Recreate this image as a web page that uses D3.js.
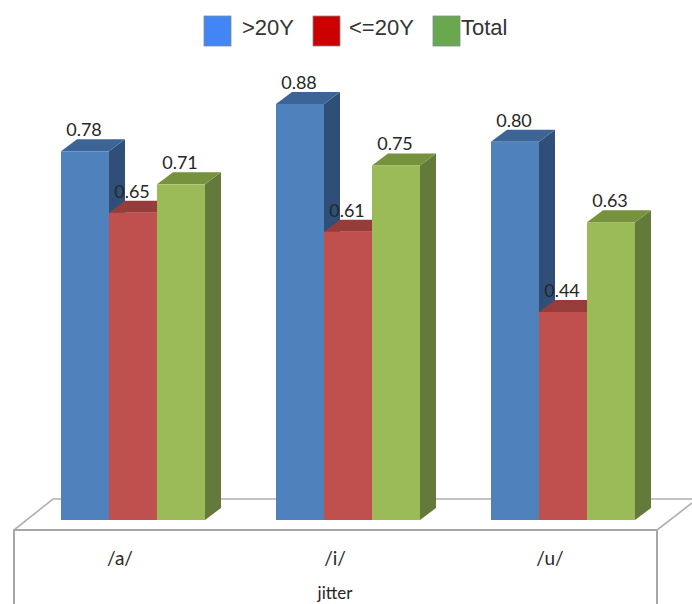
<!DOCTYPE html>
<html>
<head>
<meta charset="utf-8">
<script src="https://cdn.jsdelivr.net/npm/d3@7/dist/d3.min.js"></script>
<style>
html, body { margin: 0; padding: 0; background: #fff; overflow: hidden; }
svg { display: block; }
</style>
</head>
<body>
<svg id="chart" width="692" height="604"></svg>
<script>
// Jitter by vowel and age group
const categories = ["/a/", "/i/", "/u/"];
const seriesNames = [">20Y", "<=20Y", "Total"];
const over20 = [0.78, 0.88, 0.80];
const upTo20 = [0.65, 0.61, 0.44];
const total = [0.71, 0.75, 0.63];
const axisTitle = "jitter";

const frontColors = ["#4f81bd", "#c0504d", "#9bbb59"];
const topColors = ["#3c6496", "#963c3a", "#76923c"];
const sideColors = ["#2f4f78", "#773030", "#647a3a"];
const legendColors = ["#4285f4", "#cc0000", "#6aa84f"];

const svg = d3.select("#chart");
const seriesValues = [over20, upTo20, total];

const baseY = 520, depthX = 16, depthY = 12;

const x0 = d3.scaleBand().domain(categories).range([61, 706]).paddingInner(0).paddingOuter(0);
const x1 = d3.scaleBand().domain(d3.range(seriesNames.length)).range([0, 144]);
const y = d3.scaleLinear().domain([0, 0.88]).range([baseY, 104]);

// Floor plate and the box under it
const line = d3.line();
svg.append("path")
  .attr("d", line([[14, 604], [14, 530], [657, 530], [657, 604]]))
  .attr("fill", "none").attr("stroke", "#a6a6a6").attr("stroke-width", 2);
svg.append("path")
  .attr("d", line([[14, 530], [53, 499], [692, 499]]))
  .attr("fill", "none").attr("stroke", "#b0b0b0").attr("stroke-width", 1.6);
svg.append("path")
  .attr("d", line([[657, 530], [692, 503]]))
  .attr("fill", "none").attr("stroke", "#b0b0b0").attr("stroke-width", 1.6);

// Extruded bars, painted group by group from left to right
const bars = categories.flatMap((c, i) =>
  seriesValues.map((vals, s) => ({ category: c, series: s, value: vals[i] })));

const barG = svg.append("g").selectAll("g").data(bars).join("g");

barG.each(function (d) {
  const g = d3.select(this);
  const l = x0(d.category) + x1(d.series);
  const r = l + x1.bandwidth();
  const t = y(d.value);
  g.append("path")
    .attr("d", line([[r, t], [r + depthX, t - depthY], [r + depthX, baseY - depthY], [r, baseY]]) + "Z")
    .attr("fill", sideColors[d.series]);
  g.append("path")
    .attr("d", line([[l, t], [l + depthX, t - depthY], [r + depthX, t - depthY], [r, t]]) + "Z")
    .attr("fill", topColors[d.series]);
  g.append("rect")
    .attr("x", l).attr("y", t)
    .attr("width", x1.bandwidth()).attr("height", baseY - t)
    .attr("fill", frontColors[d.series]);
});

// Value labels sit above the top face
const valueFont = "Lato, 'Open Sans', sans-serif";
svg.append("g").selectAll("text").data(bars).join("text")
  .attr("x", d => x0(d.category) + x1(d.series) + x1.bandwidth() / 2 - 1)
  .attr("y", d => y(d.value) - 15)
  .attr("text-anchor", "middle")
  .attr("font-family", valueFont)
  .attr("font-size", 18)
  .attr("fill", "#262626")
  .text(d => d.value.toFixed(2));

// Category labels and axis title
svg.append("g").selectAll("text").data(categories).join("text")
  .attr("x", d => x0(d) + 59)
  .attr("y", 565)
  .attr("text-anchor", "middle")
  .attr("font-family", valueFont)
  .attr("font-size", 19)
  .attr("fill", "#262626")
  .text(d => d);

svg.append("text")
  .attr("x", 335).attr("y", 599)
  .attr("text-anchor", "middle")
  .attr("font-family", valueFont)
  .attr("font-size", 17)
  .attr("fill", "#262626")
  .text(axisTitle);

// Legend
const legendSwatchX = [204, 313, 433];
const legendTextX = [242, 349, 461];
const legend = svg.append("g").selectAll("g").data(seriesNames).join("g");
legend.append("rect")
  .attr("x", (d, i) => legendSwatchX[i]).attr("y", 16)
  .attr("width", 27).attr("height", 30)
  .attr("fill", (d, i) => legendColors[i])
  .attr("stroke", "#7f8a99").attr("stroke-width", 0.8);
legend.append("text")
  .attr("x", (d, i) => legendTextX[i]).attr("y", 35)
  .attr("font-family", "'Liberation Sans', Arial, sans-serif")
  .attr("font-size", 22)
  .attr("fill", "#333")
  .text(d => d);
</script>
</body>
</html>
